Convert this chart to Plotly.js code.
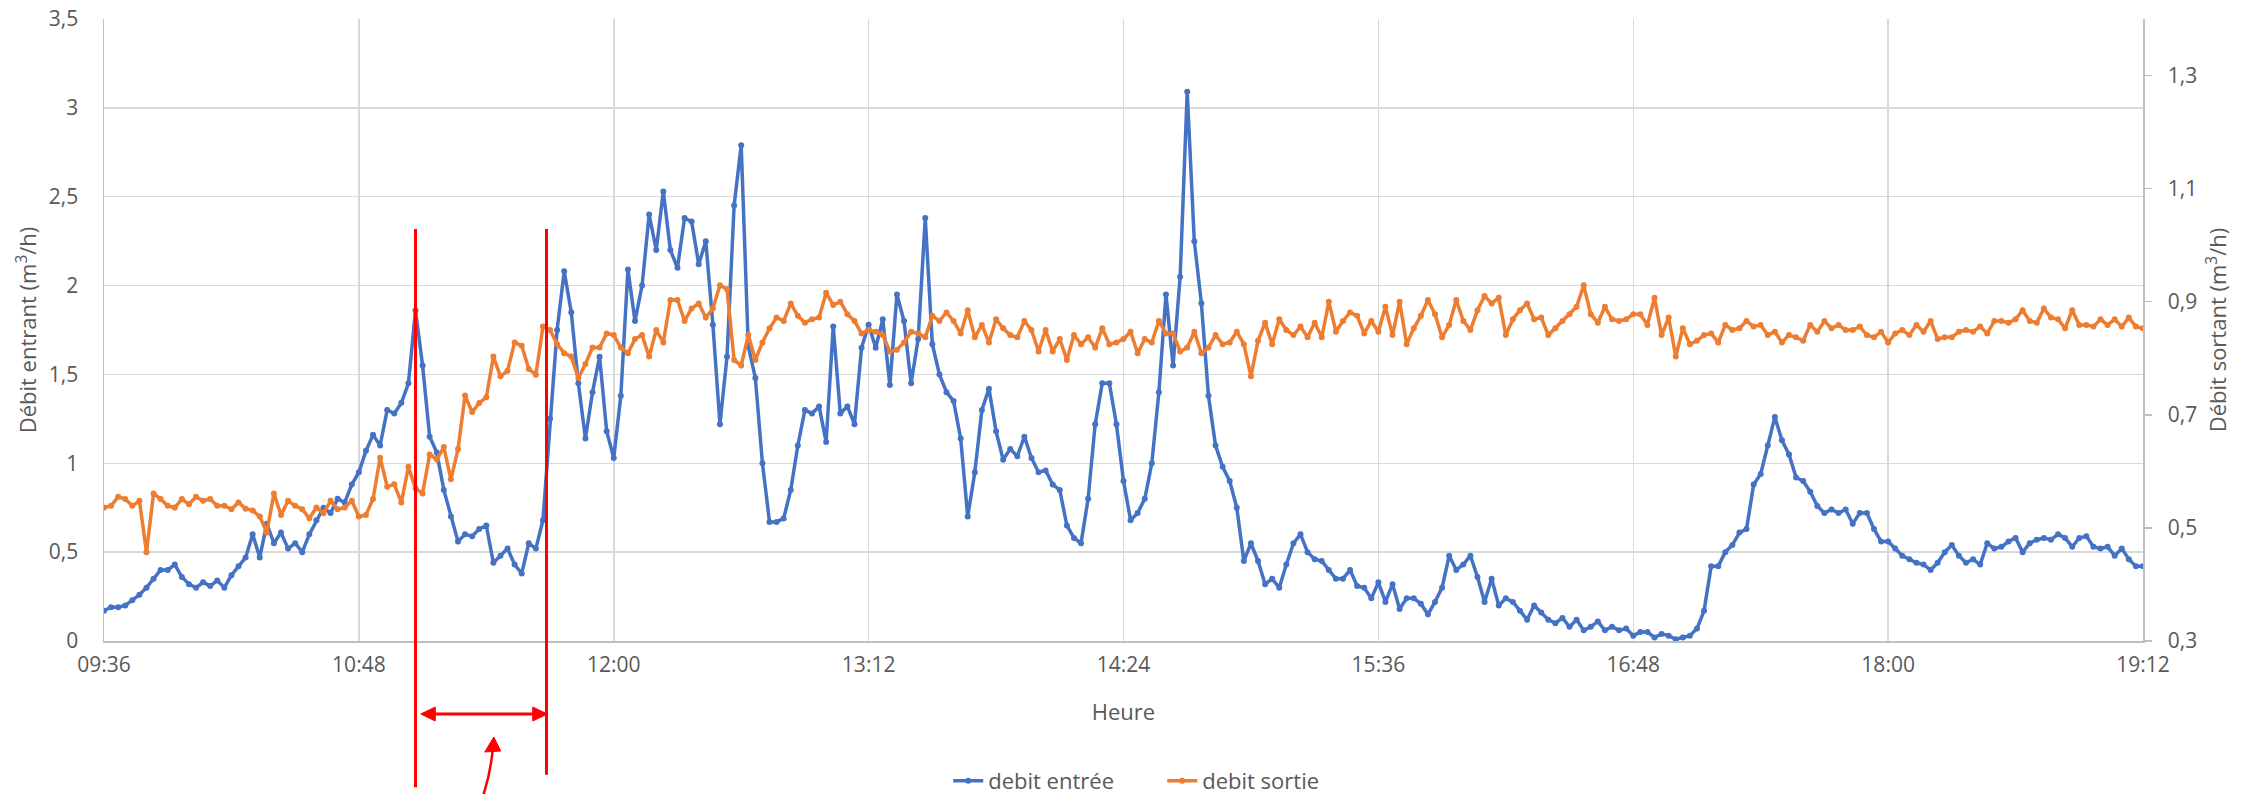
<!DOCTYPE html>
<html><head><meta charset="utf-8">
<script src="https://cdn.plot.ly/plotly-3.0.1.min.js"></script>
<style>html,body{margin:0;padding:0;background:#fff}#chart{width:2259px;height:794px}</style>
</head><body><div id="chart"></div>
<script>
// Sampling: one reading every 2 minutes from 09:36 to 19:12
const startTime = '09:36';
const stepMinutes = 2;
const xTickLabels = ['09:36','10:48','12:00','13:12','14:24','15:36','16:48','18:00','19:12'];
const seriesNames = ['debit entrée', 'debit sortie'];
const markTimes = ['11:04', '11:41'];

// débit entrant (m3/h), left axis
const inflow_0936_1048 = [0.17,0.19,0.19,0.20,0.23,0.26,0.30,0.35,0.40,0.40,0.43,0.36,0.32,0.30,0.33,0.31,0.34,0.30,0.37,0.42,0.47,0.60,0.47,0.66,0.55,0.61,0.52,0.55,0.50,0.60,0.68,0.75,0.72,0.80,0.78,0.88,0.95];
const inflow_1050_1200 = [1.07,1.16,1.10,1.30,1.28,1.34,1.45,1.86,1.55,1.15,1.06,0.85,0.70,0.56,0.60,0.59,0.63,0.65,0.44,0.48,0.52,0.43,0.38,0.55,0.52,0.68,1.25,1.75,2.08,1.85,1.45,1.14,1.40,1.60,1.18,1.03];
const inflow_1202_1312 = [1.38,2.09,1.80,2.00,2.40,2.20,2.53,2.20,2.10,2.38,2.36,2.12,2.25,1.78,1.22,1.60,2.45,2.79,1.66,1.48,1.00,0.67,0.67,0.69,0.85,1.10,1.30,1.28,1.32,1.12,1.77,1.28,1.32,1.22,1.65,1.78];
const inflow_1314_1424 = [1.65,1.81,1.44,1.95,1.80,1.45,1.70,2.38,1.67,1.50,1.40,1.35,1.14,0.70,0.95,1.30,1.42,1.18,1.02,1.08,1.04,1.15,1.03,0.95,0.96,0.88,0.85,0.65,0.58,0.55,0.80,1.22,1.45,1.45,1.22,0.90];
const inflow_1426_1536 = [0.68,0.72,0.80,1.00,1.40,1.95,1.55,2.05,3.09,2.25,1.90,1.38,1.10,0.98,0.90,0.75,0.45,0.55,0.45,0.32,0.35,0.30,0.43,0.55,0.60,0.50,0.46,0.45,0.40,0.35,0.35,0.40,0.31,0.30,0.24,0.33];
const inflow_1538_1648 = [0.22,0.32,0.18,0.24,0.24,0.21,0.15,0.22,0.30,0.48,0.40,0.43,0.48,0.36,0.22,0.35,0.20,0.24,0.22,0.17,0.12,0.20,0.16,0.12,0.10,0.13,0.08,0.12,0.06,0.08,0.11,0.06,0.08,0.06,0.07,0.03];
const inflow_1650_1800 = [0.05,0.05,0.02,0.04,0.03,0.01,0.02,0.03,0.07,0.17,0.42,0.42,0.50,0.54,0.61,0.63,0.88,0.94,1.10,1.26,1.13,1.05,0.92,0.90,0.84,0.76,0.72,0.74,0.72,0.74,0.66,0.72,0.72,0.63,0.56,0.56];
const inflow_1802_1912 = [0.52,0.48,0.46,0.44,0.43,0.40,0.44,0.50,0.54,0.48,0.44,0.46,0.43,0.55,0.52,0.53,0.56,0.58,0.50,0.55,0.57,0.58,0.57,0.60,0.58,0.53,0.58,0.59,0.53,0.52,0.53,0.48,0.52,0.46,0.42,0.42];

// débit sortant (m3/h), right axis
const outflow_0936_1048 = [0.536,0.539,0.555,0.551,0.539,0.548,0.457,0.561,0.551,0.539,0.536,0.551,0.542,0.555,0.548,0.551,0.539,0.539,0.533,0.545,0.534,0.531,0.520,0.492,0.561,0.523,0.548,0.539,0.533,0.517,0.536,0.526,0.548,0.533,0.536,0.548,0.520];
const outflow_1050_1200 = [0.523,0.551,0.624,0.573,0.577,0.545,0.608,0.570,0.561,0.630,0.621,0.643,0.586,0.639,0.734,0.705,0.721,0.731,0.803,0.768,0.778,0.828,0.822,0.781,0.771,0.856,0.850,0.825,0.809,0.803,0.765,0.790,0.819,0.819,0.844,0.841];
const outflow_1202_1312 = [0.819,0.809,0.834,0.841,0.803,0.850,0.828,0.903,0.903,0.866,0.888,0.897,0.872,0.888,0.929,0.922,0.797,0.787,0.841,0.797,0.828,0.853,0.872,0.866,0.897,0.875,0.863,0.869,0.872,0.916,0.894,0.900,0.878,0.866,0.844,0.850];
const outflow_1314_1424 = [0.847,0.841,0.812,0.815,0.828,0.847,0.844,0.837,0.875,0.866,0.881,0.866,0.844,0.885,0.837,0.859,0.828,0.869,0.853,0.841,0.837,0.866,0.850,0.812,0.850,0.812,0.834,0.797,0.841,0.825,0.837,0.819,0.853,0.825,0.828,0.834];
const outflow_1426_1536 = [0.847,0.809,0.834,0.828,0.866,0.844,0.844,0.812,0.819,0.847,0.809,0.819,0.841,0.825,0.828,0.847,0.825,0.768,0.831,0.863,0.825,0.869,0.850,0.841,0.856,0.837,0.863,0.837,0.900,0.847,0.866,0.881,0.875,0.844,0.866,0.847];
const outflow_1538_1648 = [0.891,0.841,0.900,0.825,0.853,0.875,0.903,0.878,0.837,0.859,0.903,0.866,0.850,0.885,0.910,0.897,0.907,0.841,0.869,0.885,0.897,0.869,0.872,0.841,0.853,0.866,0.878,0.891,0.929,0.878,0.863,0.891,0.869,0.866,0.869,0.878];
const outflow_1650_1800 = [0.878,0.859,0.907,0.841,0.872,0.803,0.853,0.825,0.831,0.841,0.844,0.828,0.859,0.850,0.853,0.866,0.856,0.859,0.841,0.847,0.828,0.841,0.837,0.831,0.859,0.847,0.866,0.853,0.859,0.850,0.850,0.856,0.841,0.837,0.847,0.828];
const outflow_1802_1912 = [0.844,0.850,0.841,0.859,0.847,0.866,0.834,0.837,0.837,0.847,0.850,0.847,0.856,0.844,0.866,0.866,0.863,0.869,0.885,0.866,0.863,0.888,0.872,0.869,0.853,0.885,0.859,0.859,0.856,0.869,0.859,0.869,0.856,0.872,0.856,0.853];

const inflow = [].concat(inflow_0936_1048, inflow_1050_1200, inflow_1202_1312, inflow_1314_1424,
  inflow_1426_1536, inflow_1538_1648, inflow_1650_1800, inflow_1802_1912);
const outflow = [].concat(outflow_0936_1048, outflow_1050_1200, outflow_1202_1312, outflow_1314_1424,
  outflow_1426_1536, outflow_1538_1648, outflow_1650_1800, outflow_1802_1912);

function toMs(hhmm) {
  const [h, m] = hhmm.split(':').map(Number);
  return Date.UTC(2000, 0, 1, h, m);
}
const t0 = toMs(startTime);
const times = inflow.map((_, i) => t0 + i * stepMinutes * 60000);

const gray = '#595959';
const fam = 'Open Sans, Liberation Sans, sans-serif';

const traces = [
  {x: times, y: inflow, name: seriesNames[0], type: 'scatter', mode: 'lines+markers',
   line: {color: '#4472C4', width: 3.5}, marker: {color: '#4472C4', size: 6}, yaxis: 'y'},
  {x: times, y: outflow, name: seriesNames[1], type: 'scatter', mode: 'lines+markers',
   line: {color: '#ED7D31', width: 3.5}, marker: {color: '#ED7D31', size: 6}, yaxis: 'y2'}
];

const red = '#FF0000';
const redFill = {type: 'path', xref: 'paper', yref: 'paper', fillcolor: red, line: {color: red, width: 1}};
const layout = {
  width: 2259, height: 794,
  margin: {l: 104, r: 116, t: 19, b: 153, autoexpand: false},
  paper_bgcolor: '#ffffff', plot_bgcolor: '#ffffff',
  separators: ', ',
  font: {family: fam, size: 21, color: gray},
  showlegend: true,
  legend: {orientation: 'h', x: 0.519, xanchor: 'center', y: -0.225, yanchor: 'middle',
           font: {family: fam, size: 22, color: gray}, entrywidth: 169, entrywidthmode: 'pixels'},
  xaxis: {
    type: 'date',
    range: [toMs(xTickLabels[0]), toMs(xTickLabels[xTickLabels.length - 1])],
    tickmode: 'array', tickvals: xTickLabels.map(toMs), ticktext: xTickLabels,
    showgrid: true, gridcolor: '#d9d9d9', gridwidth: 1.5,
    showline: true, linecolor: '#bfbfbf', linewidth: 1.5,
    ticks: '', ticklabelstandoff: 4, zeroline: false,
    title: {text: 'Heure', font: {family: fam, size: 22, color: gray}, standoff: 28},
    automargin: false
  },
  yaxis: {
    range: [0, 3.5], dtick: 0.5, tick0: 0,
    showgrid: true, gridcolor: '#d9d9d9', gridwidth: 1.5,
    showline: true, linecolor: '#bfbfbf', linewidth: 1.5,
    zeroline: false, ticks: '', ticklabelstandoff: 20,
    title: {text: 'Débit entrant (m<sup>3</sup>/h)', font: {family: fam, size: 22, color: gray}, standoff: 6},
    automargin: false
  },
  yaxis2: {
    overlaying: 'y', side: 'right',
    range: [0.3, 1.4], dtick: 0.2, tick0: 0.3,
    showgrid: false, zeroline: false,
    showline: true, linecolor: '#bfbfbf', linewidth: 1.5,
    ticks: 'outside', ticklen: 7, tickcolor: '#bfbfbf', tickwidth: 1.5, ticklabelstandoff: 12,
    title: {text: 'Débit sortant (m<sup>3</sup>/h)', font: {family: fam, size: 22, color: gray}, standoff: 14},
    automargin: false
  },
  shapes: [
    {type: 'line', xref: 'x', yref: 'paper', x0: toMs(markTimes[0]), x1: toMs(markTimes[0]),
     y0: 0.6625, y1: -0.235, line: {color: red, width: 3}},
    {type: 'line', xref: 'x', yref: 'paper', x0: toMs(markTimes[1]), x1: toMs(markTimes[1]),
     y0: 0.6625, y1: -0.215, line: {color: red, width: 3}},
    // double arrow between the two marks
    {type: 'line', xref: 'paper', yref: 'paper', x0: 0.1600, x1: 0.2120, y0: -0.11736, y1: -0.11736,
     line: {color: red, width: 3}},
    Object.assign({path: 'M 0.21739,-0.11736 L 0.21028,-0.10611 L 0.21028,-0.12862 Z'}, redFill),
    Object.assign({path: 'M 0.15536,-0.11736 L 0.16247,-0.10611 L 0.16247,-0.12862 Z'}, redFill),
    // curved pointer arrow
    {type: 'path', xref: 'paper', yref: 'paper',
     path: 'M 0.18478,-0.26 Q 0.18968,-0.2154 0.19066,-0.172', line: {color: red, width: 2.5}},
    Object.assign({path: 'M 0.19115,-0.15434 L 0.18674,-0.17846 L 0.19458,-0.17685 Z'}, redFill)
  ]
};

Plotly.newPlot('chart', traces, layout, {staticPlot: true, displayModeBar: false});
</script>
</body></html>
